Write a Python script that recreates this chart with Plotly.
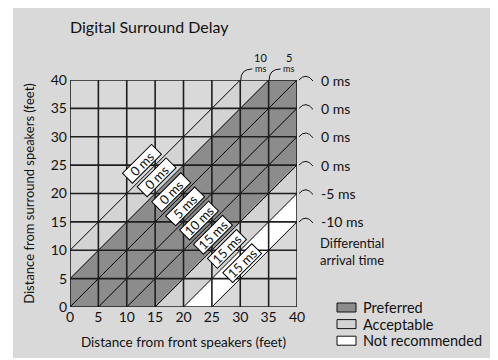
import plotly.graph_objects as go

# axis ticks (feet)
ticks = [0, 5, 10, 15, 20, 25, 30, 35, 40]

# diagonal lines y = x + offset and the arrival time written at their ends
diag_offsets = [10, 5, 0, -5, -10, -15, -20, -25]
diag_end_labels = ["10 ms", "5 ms", "0 ms", "0 ms", "0 ms", "0 ms", "-5 ms", "-10 ms"]

# shaded zones between diagonals
zone_upper = [10, 5, -15, -20]
zone_lower = [5, -15, -20, -25]
zone_class = ["Acceptable", "Preferred", "Acceptable", "Not recommended"]

# delay setting for each diagonal band (band centre offset)
delay_bands = [12.5, 7.5, 2.5, -2.5, -7.5, -12.5, -17.5, -22.5]
delay_labels = ["0 ms", "0 ms", "0 ms", "5 ms", "10 ms", "15 ms", "15 ms", "15 ms"]
label_sum = 38  # labels sit along x + y = label_sum

legend_labels = ["Preferred", "Acceptable", "Not recommended"]
zone_colors = {"Preferred": "#8c8c8c", "Acceptable": "#d3d3d3", "Not recommended": "#ffffff"}

BG = "#d9d9d9"
FONT = "Lato"
INK = "#111111"
lo, hi = ticks[0], ticks[-1]
PW = 227.0  # plot area size in px


def clip(poly, a, b, c):
    # keep the part of poly where a*x + b*y <= c
    out = []
    n = len(poly)
    for k in range(n):
        p, q = poly[k], poly[(k + 1) % n]
        fp = a * p[0] + b * p[1] - c
        fq = a * q[0] + b * q[1] - c
        if fp <= 0:
            out.append(p)
        if fp * fq < 0:
            t = fp / (fp - fq)
            out.append((p[0] + t * (q[0] - p[0]), p[1] + t * (q[1] - p[1])))
    return out


def px(v):  # screen x -> paper
    return (v - 70) / PW


def py(v):  # screen y -> paper
    return (307 - v) / PW


square = [(lo, lo), (hi, lo), (hi, hi), (lo, hi)]

fig = go.Figure()

for up, dn, cls in zip(zone_upper, zone_lower, zone_class):
    poly = clip(square, -1, 1, up)
    poly = clip(poly, 1, -1, -dn)
    xs = [p[0] for p in poly] + [poly[0][0]]
    ys = [p[1] for p in poly] + [poly[0][1]]
    fig.add_trace(go.Scatter(x=xs, y=ys, mode="lines", fill="toself",
                             fillcolor=zone_colors[cls], line=dict(width=0),
                             hoverinfo="skip", showlegend=False))

# diagonals
dx, dy = [], []
for c in diag_offsets:
    x0, x1 = max(lo, lo - c), min(hi, hi - c)
    dx += [x0, x1, None]
    dy += [x0 + c, x1 + c, None]
fig.add_trace(go.Scatter(x=dx, y=dy, mode="lines", line=dict(color="#000", width=1),
                         hoverinfo="skip", showlegend=False))

# grid
gx, gy = [], []
for t in ticks:
    gx += [t, t, None, lo, hi, None]
    gy += [lo, hi, None, t, t, None]
fig.add_trace(go.Scatter(x=gx, y=gy, mode="lines", line=dict(color="#1e1e1e", width=1.6),
                         hoverinfo="skip", showlegend=False))

annotations = []
shapes = []

# background panel
shapes.append(dict(type="rect", xref="paper", yref="paper", layer="below",
                   x0=px(13), x1=px(510), y0=py(358), y1=py(0),
                   fillcolor=BG, line=dict(width=0)))

# delay labels on the bands
for c, txt in zip(delay_bands, delay_labels):
    annotations.append(dict(x=(label_sum - c) / 2, y=(label_sum + c) / 2, xref="x", yref="y",
                            text=txt, showarrow=False, textangle=-45, width=40, height=13,
                            align="center", valign="middle",
                            font=dict(family=FONT, size=13, color=INK),
                            bgcolor="#ffffff", bordercolor="#000", borderwidth=1, borderpad=0))

# end-of-diagonal arrival time labels
span = hi - lo
for c, txt in zip(diag_offsets, diag_end_labels):
    if c > 0:
        ex = (hi - c - lo) / span
        num, unit = txt.split(" ")
        annotations.append(dict(x=ex, y=1, xref="paper", yref="paper", xshift=20, yshift=23,
                                xanchor="center", yanchor="middle", showarrow=False, text=num,
                                font=dict(family=FONT, size=11, color=INK)))
        annotations.append(dict(x=ex, y=1, xref="paper", yref="paper", xshift=20, yshift=12,
                                xanchor="center", yanchor="middle", showarrow=False, text=unit,
                                font=dict(family=FONT, size=9, color=INK)))
        shapes.append(dict(type="path", xref="paper", yref="paper",
                           path="M %f,%f Q %f,%f %f,%f" % (ex + 0.5 / PW, 1, ex + 0.5 / PW, 1 + 11 / PW,
                                                           ex + 12 / PW, 1 + 11 / PW),
                           line=dict(color=INK, width=1)))
    else:
        ey = (hi + c - lo) / span
        annotations.append(dict(x=px(319), y=ey, xref="paper", yref="paper",
                                xanchor="left", yanchor="middle", showarrow=False, text=txt,
                                font=dict(family=FONT, size=14, color=INK)))
        shapes.append(dict(type="path", xref="paper", yref="paper",
                           path="M %f,%f Q %f,%f %f,%f" % (1 + 2 / PW, ey, 1 + 9 / PW, ey + 8 / PW,
                                                           1 + 16 / PW, ey - 1 / PW),
                           line=dict(color=INK, width=1)))

annotations.append(dict(x=px(318), y=py(251), xref="paper", yref="paper",
                        xanchor="left", yanchor="middle", showarrow=False, align="left",
                        text="Differential<br>arrival time",
                        font=dict(family=FONT, size=13, color=INK)))

# legend
for k, name in enumerate(legend_labels):
    top = 303 + k * 16.6
    shapes.append(dict(type="rect", xref="paper", yref="paper",
                       x0=px(337), x1=px(356), y0=py(top + 9), y1=py(top),
                       fillcolor=zone_colors[name], line=dict(color=INK, width=1)))
    annotations.append(dict(x=px(361), y=py(top + 4.5), xref="paper", yref="paper",
                            xanchor="left", yanchor="middle", showarrow=False, text=name,
                            height=15, font=dict(family=FONT, size=14.5, color=INK)))

# page body adds an 8px offset, so margins are 8px smaller than screen positions
fig.update_layout(
    width=498, height=360,
    margin=dict(l=62, r=209, t=72, b=61),
    paper_bgcolor="#ffffff", plot_bgcolor=BG,
    title=dict(text="Digital Surround Delay", x=62 / 498, xanchor="left", y=1 - 19 / 360,
               yanchor="middle", font=dict(family=FONT, size=16, color=INK)),
    annotations=annotations, shapes=shapes,
    xaxis=dict(range=[lo, hi], tickvals=ticks, showgrid=False, zeroline=False, ticks="",
               tickfont=dict(family=FONT, size=14, color=INK),
               title=dict(text="Distance from front speakers (feet)", standoff=13,
                          font=dict(family=FONT, size=13.5, color=INK))),
    yaxis=dict(range=[lo, hi], tickvals=ticks, showgrid=False, zeroline=False, ticks="",
               ticklabelstandoff=2,
               tickfont=dict(family=FONT, size=14, color=INK),
               title=dict(text="Distance from surround speakers (feet)", standoff=13,
                          font=dict(family=FONT, size=13, color=INK))),
)

fig.write_html("out.html")
